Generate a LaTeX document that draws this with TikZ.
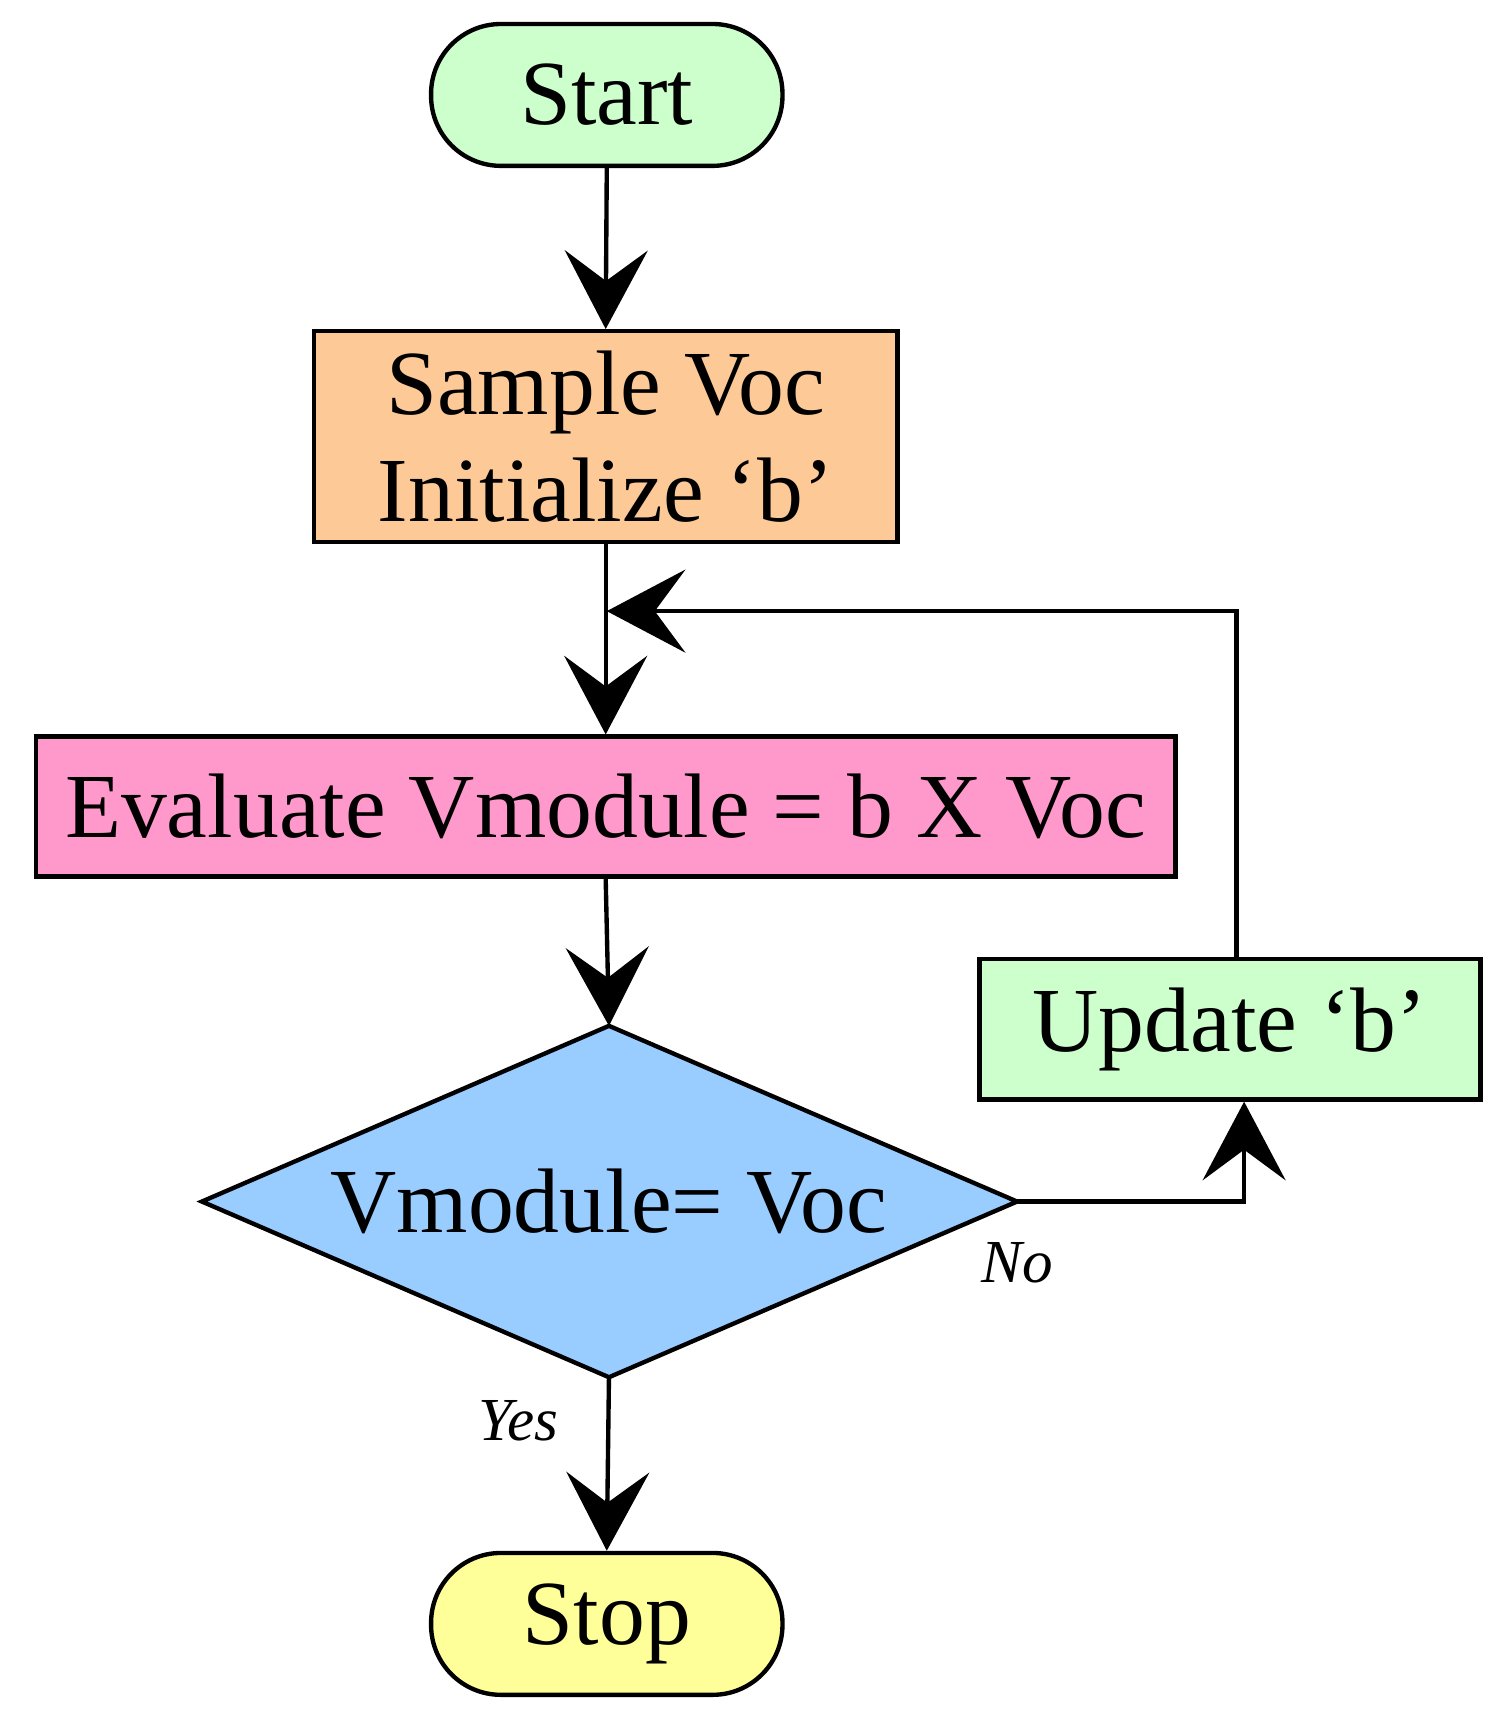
\documentclass[tikz,border=0pt]{standalone}
\usepackage{fontspec}
\setmainfont{Liberation Serif}
\usetikzlibrary{shapes.geometric,arrows.meta}
\definecolor{cgreen}{HTML}{CCFFCC}
\definecolor{corange}{HTML}{FCC997}
\definecolor{cpink}{HTML}{FF99CC}
\definecolor{cblue}{HTML}{99CCFF}
\definecolor{cyellow}{HTML}{FFFF99}
\begin{document}
\begin{tikzpicture}[x=0.5pt,y=-0.5pt,
  box/.style={draw,line width=2pt,inner sep=0pt,font=\fontsize{42}{45}\selectfont,align=center},
  term/.style={box,rounded corners=32pt},
  lab/.style={font=\fontsize{28}{30}\selectfont\itshape},
  arr/.style={line width=2pt,-{Stealth[length=36pt,width=38pt,inset=14pt]}},
  ln/.style={line width=2pt}]
\useasboundingbox (0,0) rectangle (1385,1566);
\node[term,fill=cgreen,minimum width=161pt,minimum height=65pt] (start) at (556,87) {Start};
\node[box,fill=corange,minimum width=267.5pt,minimum height=96.5pt] (sample) at (555,400) {Sample Voc\\[4pt]Initialize ‘b’};
\node[box,fill=cpink,minimum width=522pt,minimum height=64pt] (eval) at (555,739) {Evaluate Vmodule = b X Voc};
\node[box,draw=none,fill=none,minimum width=373.5pt,minimum height=161pt] (dbox) at (558,1101) {};
\draw[line width=2pt,fill=cblue,line join=miter] (185,1101) coordinate (dl) -- (558,940) coordinate (dt) -- (932,1101) coordinate (dr) -- (558,1262) coordinate (db) -- cycle;
\node[font=\fontsize{42}{45}\selectfont] (dec) at (558,1101) {Vmodule= Voc};
\node[box,fill=cgreen,minimum width=229.5pt,minimum height=64.5pt] (upd) at (1127,943) {Update ‘b’};
\node[term,fill=cyellow,minimum width=161pt,minimum height=65pt] (stop) at (556,1488) {Stop};
\coordinate (j) at (556,560);
\coordinate (c1) at (1140,1101);
\coordinate (c2) at (1133,560);
\draw[arr] (start.south) -- (sample.north);
\draw[arr] (sample.south) -- (eval.north);
\draw[arr] (eval.south) -- (dt);
\draw[arr] (db) -- (stop.north);
\draw[arr] (dr) -- (c1) -- (upd.south -| c1);
\draw[arr] (upd.north -| c2) -- (c2) -- (j);
\node[lab] (no) at (932,1157) {No};
\node[lab] (yes) at (475,1302) {Yes};
\end{tikzpicture}
\end{document}
